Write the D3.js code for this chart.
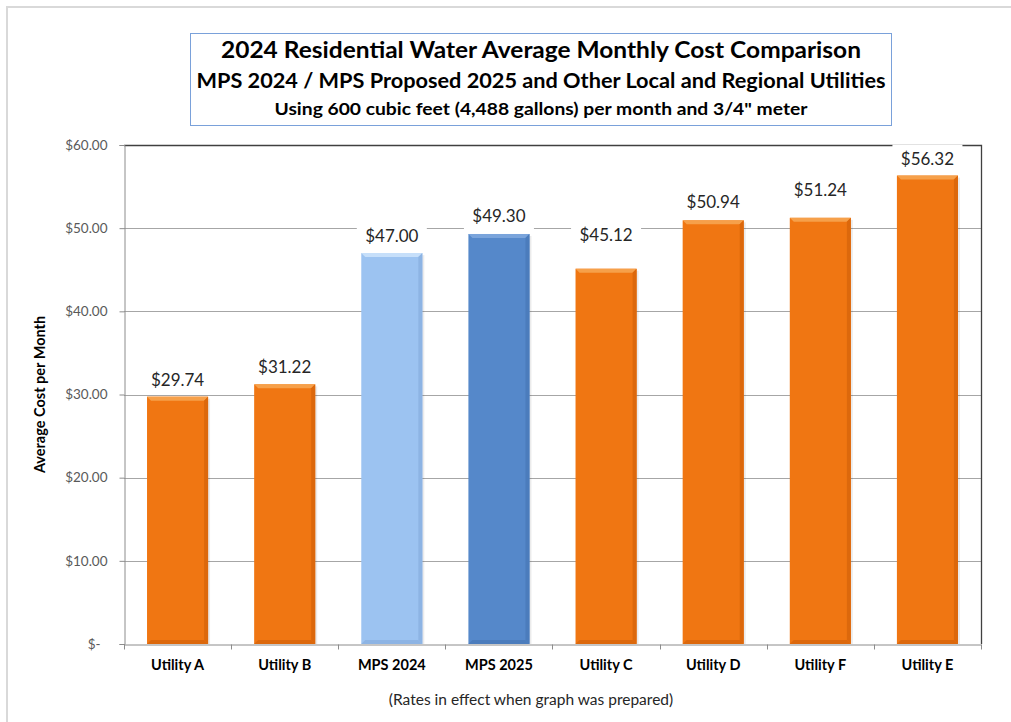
<!DOCTYPE html>
<html>
<head>
<meta charset="utf-8">
<script src="https://cdn.jsdelivr.net/npm/d3@7"></script>
<style>
  body { margin: 0; background: #fff; }
  text { font-family: Lato, "Open Sans", sans-serif; }
</style>
</head>
<body>
<script>
// data
var categories = ["Utility A", "Utility B", "MPS 2024", "MPS 2025", "Utility C", "Utility D", "Utility F", "Utility E"];
var costs = [29.74, 31.22, 47.00, 49.30, 45.12, 50.94, 51.24, 56.32];
var groups = ["other", "other", "mps2024", "mps2025", "other", "other", "other", "other"];
var yTicks = [0, 10, 20, 30, 40, 50, 60];
var titleLines = [
  "2024 Residential Water Average Monthly Cost Comparison",
  "MPS 2024 / MPS Proposed 2025 and Other Local and Regional Utilities",
  "Using 600 cubic feet (4,488 gallons) per month and 3/4\" meter"
];

var width = 1011, height = 722;
var plot = {left: 124, right: 981, top: 145, bottom: 644};

// colours per group: base, top bevel, side bevel
var palette = {
  other:   {base: "#F07612", light: "#F6A04A", dark: "#DC680C"},
  mps2024: {base: "#9CC3F1", light: "#C6DFFA", dark: "#8DB4E4"},
  mps2025: {base: "#5588CA", light: "#7AA4DB", dark: "#4B7CBC"}
};
// how far each value label sits above its bar (moved by hand in the original)
var labelLift = [17, 17, 17, 18, 34, 18, 28, 17];

var svg = d3.select("body").append("svg")
    .attr("width", width)
    .attr("height", height);

// outer frame
svg.append("rect")
    .attr("x", 7).attr("y", 7)
    .attr("width", 1030).attr("height", 740)
    .attr("fill", "none")
    .attr("stroke", "#d9d9d9")
    .attr("stroke-width", 2);

// title box
svg.append("rect")
    .attr("x", 190.5).attr("y", 33.5)
    .attr("width", 701).attr("height", 92)
    .attr("fill", "#fff")
    .attr("stroke", "#7aa1da");

var titleStyle = [
  {y: 58, size: 23, len: 640},
  {y: 88, size: 20.5, len: 689},
  {y: 115, size: 17, len: 533}
];
svg.selectAll("text.title")
    .data(titleLines)
  .enter().append("text")
    .attr("class", "title")
    .attr("x", 541)
    .attr("y", function(d, i) { return titleStyle[i].y; })
    .attr("text-anchor", "middle")
    .attr("font-size", function(d, i) { return titleStyle[i].size; })
    .attr("font-weight", "bold")
    .attr("textLength", function(d, i) { return titleStyle[i].len; })
    .attr("lengthAdjust", "spacingAndGlyphs")
    .attr("fill", "#000")
    .text(function(d) { return d; });

var x = d3.scaleBand()
    .domain(categories)
    .range([plot.left, plot.right])
    .paddingInner(0.43)
    .paddingOuter(0.215);

var y = d3.scaleLinear()
    .domain([0, 60])
    .range([plot.bottom, plot.top]);

// gridlines
svg.append("g")
  .selectAll("line")
    .data(yTicks.filter(function(d) { return d > 0 && d < 60; }))
  .enter().append("line")
    .attr("x1", plot.left).attr("x2", plot.right)
    .attr("y1", function(d) { return Math.round(y(d)) + 0.5; })
    .attr("y2", function(d) { return Math.round(y(d)) + 0.5; })
    .attr("stroke", "#a6a6a6");

// top and right border of plot area
svg.append("path")
    .attr("d", "M" + plot.left + "," + (plot.top + 0.5) + "H" + (plot.right + 0.5) + "V" + plot.bottom)
    .attr("fill", "none")
    .attr("stroke", "#404040")
    .attr("stroke-width", 1.3);

// y axis
var yAxis = svg.append("g")
    .attr("transform", "translate(" + (plot.left + 0.5) + ",0)")
    .call(d3.axisLeft(y)
      .tickValues(yTicks)
      .tickSize(5)
      .tickPadding(12)
      .tickFormat(function(d) { return d === 0 ? "$-" : "$" + d3.format(".2f")(d); }));
yAxis.select(".domain").attr("stroke", "#8c8c8c");
yAxis.selectAll(".tick line").attr("stroke", "#8c8c8c");
yAxis.selectAll(".tick text")
    .attr("font-family", "Lato, sans-serif")
    .attr("font-size", 13.5)
    .attr("fill", "#595959")
    .attr("dx", function(d) { return d === 0 ? -7 : 0; });

// x axis
var xAxis = svg.append("g")
    .attr("transform", "translate(0," + (plot.bottom + 0.5) + ")")
    .call(d3.axisBottom(x).tickSize(0).tickPadding(15));
xAxis.select(".domain").attr("stroke", "#8c8c8c");
xAxis.selectAll(".tick text")
    .attr("font-family", "Lato, sans-serif")
    .attr("font-size", 14.5)
    .attr("font-weight", "bold")
    .attr("fill", "#000");
// tick marks between categories
var bounds = categories.map(function(c) { return x(c) - x.step() * x.paddingOuter(); });
bounds.push(plot.right);
xAxis.selectAll("line.sep")
    .data(bounds)
  .enter().append("line")
    .attr("class", "sep")
    .attr("x1", function(d) { return Math.round(d) + 0.5; })
    .attr("x2", function(d) { return Math.round(d) + 0.5; })
    .attr("y1", 0).attr("y2", 5)
    .attr("stroke", "#8c8c8c");

// bars with a bevelled look
var bw = x.bandwidth(), b = 4;
var bars = svg.append("g").selectAll("g.bar")
    .data(categories)
  .enter().append("g")
    .attr("class", "bar");

function pts(arr) { return arr.map(function(p) { return p.join(","); }).join(" "); }

bars.append("rect")
    .attr("x", function(d) { return x(d) + 2; })
    .attr("y", function(d, i) { return y(costs[i]) + 2; })
    .attr("width", bw)
    .attr("height", function(d, i) { return y(0) - y(costs[i]) - 2; })
    .attr("fill", "#000")
    .attr("opacity", 0.08);

bars.append("rect")
    .attr("x", function(d) { return x(d); })
    .attr("y", function(d, i) { return y(costs[i]); })
    .attr("width", bw)
    .attr("height", function(d, i) { return y(0) - y(costs[i]); })
    .attr("fill", function(d, i) { return palette[groups[i]].base; });

bars.append("polygon")
    .attr("points", function(d, i) {
      var x0 = x(d), x1 = x0 + bw, yt = y(costs[i]);
      return pts([[x0, yt], [x1, yt], [x1 - b, yt + b], [x0 + b, yt + b]]);
    })
    .attr("fill", function(d, i) { return palette[groups[i]].light; });

bars.append("polygon")
    .attr("points", function(d, i) {
      var x1 = x(d) + bw, yt = y(costs[i]), yb = y(0);
      return pts([[x1, yt], [x1, yb], [x1 - b, yb - b], [x1 - b, yt + b]]);
    })
    .attr("fill", function(d, i) { return palette[groups[i]].dark; });

bars.append("polygon")
    .attr("points", function(d, i) {
      var x0 = x(d), x1 = x0 + bw, yb = y(0);
      return pts([[x0, yb], [x0 + b, yb - b], [x1 - b, yb - b], [x1, yb]]);
    })
    .attr("fill", function(d, i) { return palette[groups[i]].dark; });

// value labels on white boxes
var labels = svg.append("g").selectAll("g.lbl")
    .data(categories)
  .enter().append("g")
    .attr("class", "lbl")
    .attr("transform", function(d, i) {
      return "translate(" + (x(d) + bw / 2) + "," + (y(costs[i]) - labelLift[i]) + ")";
    });

labels.append("rect")
    .attr("x", -35).attr("y", -14)
    .attr("width", 70).attr("height", 28)
    .attr("fill", "#fff");

labels.append("text")
    .attr("text-anchor", "middle")
    .attr("dy", "0.36em")
    .attr("font-size", 17)
    .attr("fill", "#262626")
    .text(function(d, i) { return "$" + d3.format(".2f")(costs[i]); });

// axis title
svg.append("text")
    .attr("transform", "translate(45," + ((plot.top + plot.bottom) / 2) + ") rotate(-90)")
    .attr("text-anchor", "middle")
    .attr("font-size", 14.5)
    .attr("font-weight", "bold")
    .attr("fill", "#000")
    .text("Average Cost per Month");

// footnote
svg.append("text")
    .attr("x", 531).attr("y", 705)
    .attr("text-anchor", "middle")
    .attr("font-size", 15.5)
    .attr("fill", "#262626")
    .text("(Rates in effect when graph was prepared)");
</script>
</body>
</html>
